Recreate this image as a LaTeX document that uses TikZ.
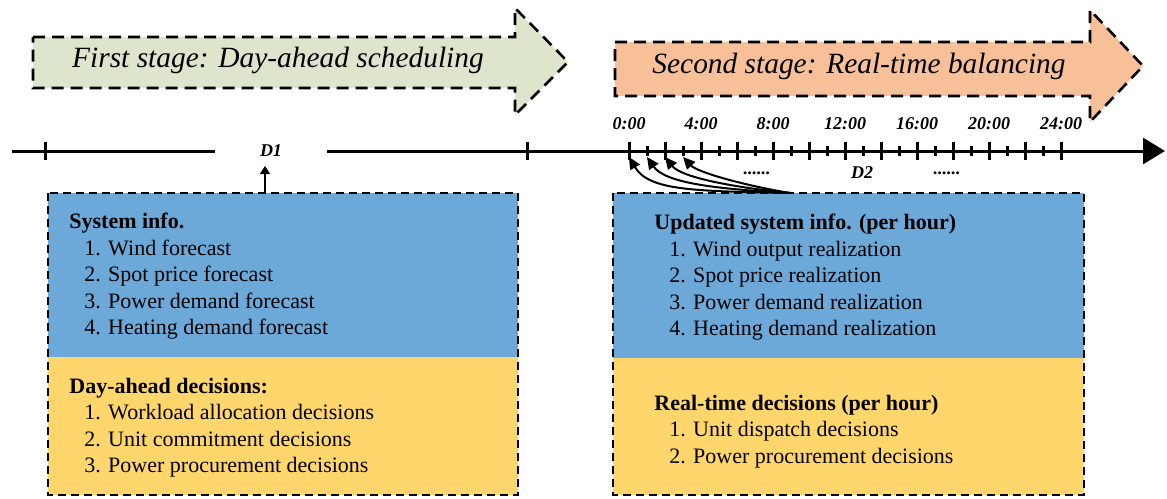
\documentclass[tikz,border=0pt]{standalone}
\usepackage{fontspec}
\setmainfont{Liberation Serif}
\usepackage{tikz}
\usetikzlibrary{arrows.meta,positioning}

\definecolor{stageone}{RGB}{221,230,204}
\definecolor{stagetwo}{RGB}{248,192,152}
\definecolor{infoblue}{RGB}{108,169,217}
\definecolor{decyellow}{RGB}{254,214,108}

\tikzstyle{stage} = [draw, line width=1.3pt, dash pattern=on 6pt off 3.5pt, line join=miter]
\tikzstyle{stagetext} = [inner sep=0pt, font=\fontsize{14.7}{17}\selectfont\itshape]
\tikzstyle{axis} = [line width=1.5pt]
\tikzstyle{hour} = [inner sep=0pt, font=\fontsize{9}{10}\selectfont\bfseries\itshape]
\tikzstyle{frame} = [draw, line width=0.7pt, dash pattern=on 4pt off 2.5pt]
\tikzstyle{infotext} = [anchor=north west, inner sep=0pt, font=\fontsize{11}{13.2}\selectfont]
\tikzstyle{update} = [line width=1pt, -{Triangle[length=6pt,width=5.5pt]}]

\newcommand{\itm}[1]{\hspace*{7.5pt}#1}

\begin{document}
\begin{tikzpicture}[x=0.5pt, y=-0.5pt]
    \useasboundingbox (0,0) rectangle (1167,498);

    % stage banners
    \draw[stage, fill=stageone] (33,37) -- (515,37) -- (515,8) -- (568,62)
        -- (515,115) -- (515,88) -- (33,88) -- cycle;
    \node[stagetext] (first) at (278,60) {First stage: Day-ahead scheduling};

    \draw[stage, fill=stagetwo] (615,42) -- (1090,42) -- (1090,10) -- (1143,66)
        -- (1090,122) -- (1090,96) -- (615,96) -- cycle;
    \node[stagetext] (second) at (859,66) {Second stage: Real-time balancing};

    % time line
    \coordinate (tlstart) at (12,151);
    \coordinate (tlend) at (1165,151);
    \node[hour, minimum width=56pt] (d1) at (271,151) {D1};
    \draw[axis] (tlstart) -- (d1.west);
    \draw[axis, -{Triangle[length=11pt,width=13pt]}] (d1.east) -- (tlend);
    \foreach \x in {45,527}
        \draw[axis] (\x,142) -- (\x,160);

    \foreach \h in {0,...,24} {
        \coordinate (tk\h) at (629+18*\h,157);
        \ifodd\h
            \draw[axis] (629+18*\h,146) -- (629+18*\h,156);
        \else
            \draw[axis] (629+18*\h,142) -- (629+18*\h,160);
        \fi
    }
    \foreach \h in {0,4,...,24}
        \node[hour] (lbl\h) at (629+18*\h,124) {\h:00};

    \node[hour] (d2) at (862,173) {D2};
    \node[hour] (dotsa) at (757,173) {......};
    \node[hour] (dotsb) at (947,173) {......};

    % day-ahead box
    \fill[infoblue] (48,193) rectangle (518,357);
    \fill[decyellow] (48,357) rectangle (518,495);
    \draw[frame] (48,193) rectangle (518,495);

    \node[infotext] (sysinfo) at (69,210) {%
        \begin{tabular}{@{}l@{}}
            \textbf{System info.}\\
            \itm{1. Wind forecast}\\
            \itm{2. Spot price forecast}\\
            \itm{3. Power demand forecast}\\
            \itm{4. Heating demand forecast}
        \end{tabular}};
    \node[infotext] (dadec) at (69,374.5) {%
        \begin{tabular}{@{}l@{}}
            \textbf{Day-ahead decisions:}\\
            \itm{1. Workload allocation decisions}\\
            \itm{2. Unit commitment decisions}\\
            \itm{3. Power procurement decisions}
        \end{tabular}};

    \coordinate (dafrom) at (265,193);
    \coordinate (dato) at (265,166);
    \draw[line width=0.8pt, -{Triangle[length=4pt,width=5pt]}] (dafrom) -- (dato);

    % real-time box
    \fill[infoblue] (613,193) rectangle (1084,358);
    \fill[decyellow] (613,358) rectangle (1084,495);
    \draw[frame] (613,193) rectangle (1084,495);

    \node[infotext] (upinfo) at (654,211) {%
        \begin{tabular}{@{}l@{}}
            \textbf{Updated system info. (per hour)}\\
            \itm{1. Wind output realization}\\
            \itm{2. Spot price realization}\\
            \itm{3. Power demand realization}\\
            \itm{4. Heating demand realization}
        \end{tabular}};
    \node[infotext] (rtdec) at (654,391.5) {%
        \begin{tabular}{@{}l@{}}
            \textbf{Real-time decisions (per hour)}\\
            \itm{1. Unit dispatch decisions}\\
            \itm{2. Power procurement decisions}
        \end{tabular}};

    \coordinate (src) at (790,193);
    \draw[update] (src) .. controls +(-95,-2) and +(20,34) .. (tk0);
    \draw[update] (src) .. controls +(-75,-4) and +(18,26) .. (tk1);
    \draw[update] (src) .. controls +(-60,-6) and +(16,20) .. (tk2);
    \draw[update] (src) .. controls +(-48,-8) and +(14,15) .. (tk3);
\end{tikzpicture}
\end{document}
